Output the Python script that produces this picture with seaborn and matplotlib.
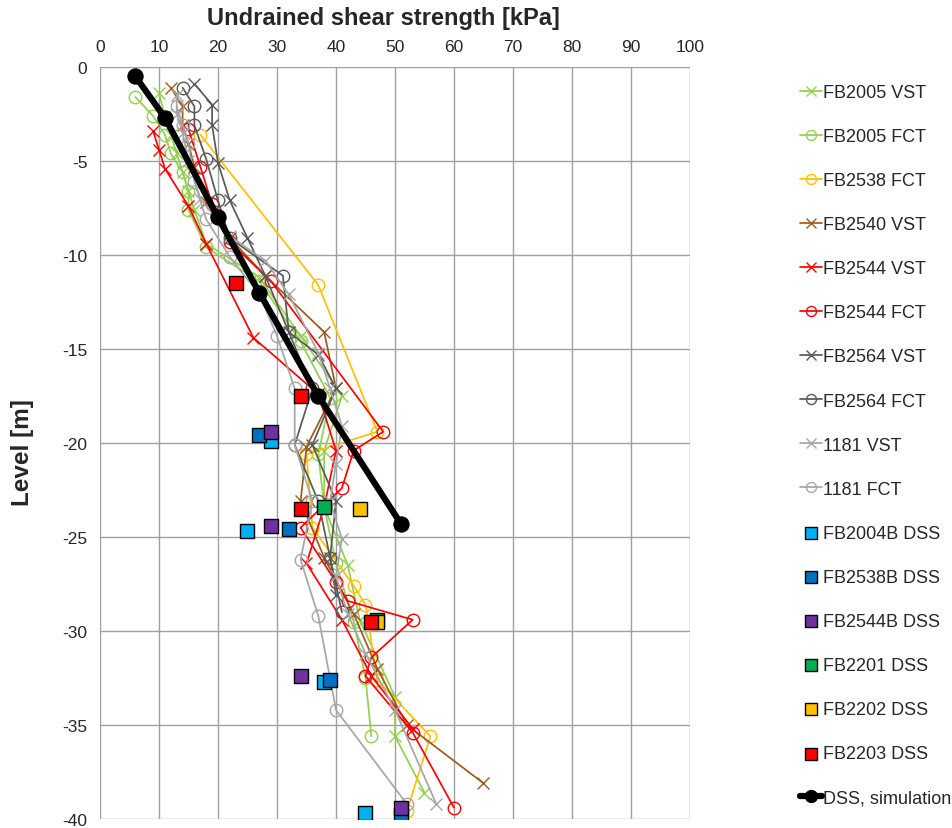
import matplotlib
matplotlib.use("Agg")
import matplotlib.pyplot as plt
import seaborn as sns
import pandas as pd

# ---- field test profiles: (value kPa, level m) ----
fb2005_vst_val = [10, 11, 12, 13, 14, 15, 16, 18, 27, 34, 41, 38, 38, 42, 44, 50, 50, 55]
fb2005_vst_lvl = [-1.4, -2.6, -3.6, -4.6, -5.6, -6.6, -7.6, -9.4, -11.2, -14.3, -17.5, -20.4, -23.4, -26.5, -29.4, -33.5, -35.6, -38.6]

fb2005_fct_val = [6, 9, 11, 12, 14, 15, 15, 18, 27, 34, 39, 37, 38, 40, 43, 45, 46]
fb2005_fct_lvl = [-1.6, -2.6, -3.6, -4.6, -5.6, -6.6, -7.6, -9.6, -11.4, -14.6, -17.6, -20.6, -23.4, -26.4, -29.5, -32.5, -35.6]

fb2538_fct_val = [17, 37, 47, 35, 36, 43, 45, 47, 56, 52]
fb2538_fct_lvl = [-3.6, -11.6, -19.4, -20.6, -24.5, -27.6, -28.6, -32.6, -35.6, -39.6]

fb2540_vst_val = [12, 14, 14, 15, 16, 18, 22, 28, 38, 40, 35, 34, 38, 43, 47, 52, 65]
fb2540_vst_lvl = [-1.1, -2.1, -3.1, -4.1, -5.3, -7.2, -9.1, -11.1, -14.1, -17.1, -20.2, -23.1, -26.1, -29.1, -32.0, -35.0, -38.1]

fb2544_vst_val = [9, 10, 11, 15, 18, 26, 37, 40, 38, 35, 41, 46, 53]
fb2544_vst_lvl = [-3.4, -4.4, -5.4, -7.4, -9.4, -14.4, -17.4, -20.4, -23.4, -26.4, -29.4, -32.4, -35.2]

fb2544_fct_val = [15, 17, 19, 22, 29, 48, 43, 41, 34, 40, 42, 53, 46, 45, 53, 60]
fb2544_fct_lvl = [-3.3, -5.3, -7.3, -9.3, -11.4, -19.4, -20.4, -22.4, -24.5, -27.4, -28.4, -29.4, -31.4, -32.4, -35.4, -39.4]

fb2564_vst_val = [16, 19, 19, 20, 22, 25, 28, 32, 37, 40, 36, 40, 39, 40]
fb2564_vst_lvl = [-0.9, -2.0, -3.1, -5.1, -7.1, -9.1, -11.1, -14.1, -15.3, -17.1, -20.1, -23.1, -26.1, -28.1]

fb2564_fct_val = [14, 16, 16, 18, 20, 22, 31, 32, 36, 33, 37, 39, 41]
fb2564_fct_lvl = [-1.1, -2.1, -3.1, -4.9, -7.1, -9.1, -11.1, -14.1, -17.1, -20.1, -23.1, -26.1, -29.0]

b1181_vst_val = [13, 13, 14, 15, 17, 22, 28, 32, 37, 39, 41, 40, 39, 41, 40, 42, 45, 50, 57]
b1181_vst_lvl = [-1.5, -2.5, -3.5, -5.0, -7.0, -9.0, -10.3, -12.1, -15.2, -17.1, -19.1, -21.1, -23.1, -25.1, -27.1, -29.1, -31.2, -34.2, -39.2]

b1181_fct_val = [13, 14, 15, 16, 18, 22, 27, 30, 33, 33, 36, 34, 37, 40, 52]
b1181_fct_lvl = [-2.1, -3.1, -4.1, -6.1, -8.1, -10.1, -12.1, -14.3, -17.1, -20.1, -23.1, -26.2, -29.2, -34.2, -39.2]

# ---- laboratory DSS results ----
fb2004b_val = [29, 25, 38, 45]
fb2004b_lvl = [-19.9, -24.7, -32.7, -39.7]
fb2538b_val = [27, 32, 39, 51]
fb2538b_lvl = [-19.6, -24.6, -32.6, -39.8]
fb2544b_val = [29, 29, 34, 51]
fb2544b_lvl = [-19.4, -24.4, -32.4, -39.4]
fb2201_val = [38, 47]
fb2201_lvl = [-23.4, -29.4]
fb2202_val = [44, 47]
fb2202_lvl = [-23.5, -29.5]
fb2203_val = [23, 34, 34, 46]
fb2203_lvl = [-11.5, -17.5, -23.5, -29.5]

# ---- simulated DSS profile ----
sim_val = [6, 11, 20, 27, 37, 51]
sim_lvl = [-0.5, -2.7, -8.0, -12.0, -17.5, -24.3]

sns.set_theme(style="white")
plt.rcParams["font.family"] = ["Liberation Sans", "DejaVu Sans"]
plt.rcParams["axes.unicode_minus"] = False

fig = plt.figure(figsize=(9.53, 8.29), dpi=100)
ax = fig.add_axes([100 / 953, 1 - 820 / 829, 590 / 953, 752 / 829])

line_series = [
    ("FB2005 VST", fb2005_vst_val, fb2005_vst_lvl, "#92D050", "x"),
    ("FB2005 FCT", fb2005_fct_val, fb2005_fct_lvl, "#92D050", "o"),
    ("FB2538 FCT", fb2538_fct_val, fb2538_fct_lvl, "#FFC000", "o"),
    ("FB2540 VST", fb2540_vst_val, fb2540_vst_lvl, "#9C5A1E", "x"),
    ("FB2544 VST", fb2544_vst_val, fb2544_vst_lvl, "#FF0000", "x"),
    ("FB2544 FCT", fb2544_fct_val, fb2544_fct_lvl, "#FF0000", "o"),
    ("FB2564 VST", fb2564_vst_val, fb2564_vst_lvl, "#595959", "x"),
    ("FB2564 FCT", fb2564_fct_val, fb2564_fct_lvl, "#595959", "o"),
    ("1181 VST", b1181_vst_val, b1181_vst_lvl, "#A6A6A6", "x"),
    ("1181 FCT", b1181_fct_val, b1181_fct_lvl, "#A6A6A6", "o"),
]

for name, vals, lvls, col, mk in line_series:
    df = pd.DataFrame({"su": vals, "level": lvls})
    kw = dict(marker=mk, markersize=9, markeredgewidth=1.0, color=col,
              linewidth=1.25, zorder=2, markeredgecolor=col)
    if mk == "o":
        kw["markerfacecolor"] = "none"
    sns.lineplot(data=df, x="su", y="level", sort=False, estimator=None,
                 ax=ax, label=name, **kw)

dss_series = [
    ("FB2004B DSS", fb2004b_val, fb2004b_lvl, "#00B0F0"),
    ("FB2538B DSS", fb2538b_val, fb2538b_lvl, "#0070C0"),
    ("FB2544B DSS", fb2544b_val, fb2544b_lvl, "#7030A0"),
    ("FB2201 DSS", fb2201_val, fb2201_lvl, "#00B050"),
    ("FB2202 DSS", fb2202_val, fb2202_lvl, "#FFC000"),
    ("FB2203 DSS", fb2203_val, fb2203_lvl, "#FF0000"),
]
for name, vals, lvls, col in dss_series:
    df = pd.DataFrame({"su": vals, "level": lvls})
    sns.scatterplot(data=df, x="su", y="level", marker="s", s=110, color=col,
                    edgecolor="black", linewidth=1.0, ax=ax, label=name, zorder=3)

sim_df = pd.DataFrame({"su": sim_val, "level": sim_lvl})
sns.lineplot(data=sim_df, x="su", y="level", sort=False, estimator=None, ax=ax,
             color="black", linewidth=4.5, marker="o", markersize=11,
             markeredgecolor="black", label="DSS, simulation", zorder=4)

ax.set_xlim(0, 100)
ax.set_ylim(-40, 0)
ax.set_xticks(range(0, 101, 10))
ax.set_yticks(range(-40, 1, 5))
ax.xaxis.tick_top()
ax.xaxis.set_label_position("top")
ax.tick_params(axis="both", labelsize=12.5, length=0, colors="#262626")
ax.tick_params(axis="x", pad=9.5)
ax.tick_params(axis="y", pad=9)

xl = ax.set_xlabel("Undrained shear strength [kPa]", fontsize=17, fontweight="bold")
yl = ax.set_ylabel("Level [m]", fontsize=17.5, fontweight="bold")
ax.xaxis.set_label_coords(0.48, 1.066)
ax.yaxis.set_label_coords(-0.132, 0.488)
xl.set_verticalalignment("center")
yl.set_verticalalignment("center")
yl.set_horizontalalignment("center")

ax.grid(True, color="#A0A0A0", linewidth=1.0)
ax.set_axisbelow(True)
for side in ["top", "right", "bottom", "left"]:
    ax.spines[side].set_visible(False)

handles, labels = ax.get_legend_handles_labels()
ax.legend(handles, labels, loc="upper left", bbox_to_anchor=(800 / 953, 1 - 85 / 829),
          bbox_transform=fig.transFigure, frameon=False, fontsize=13,
          labelspacing=1.5, handlelength=1.2, handletextpad=0.05,
          borderaxespad=0, borderpad=0, markerscale=0.8)

fig.savefig("out.png", dpi=100)
